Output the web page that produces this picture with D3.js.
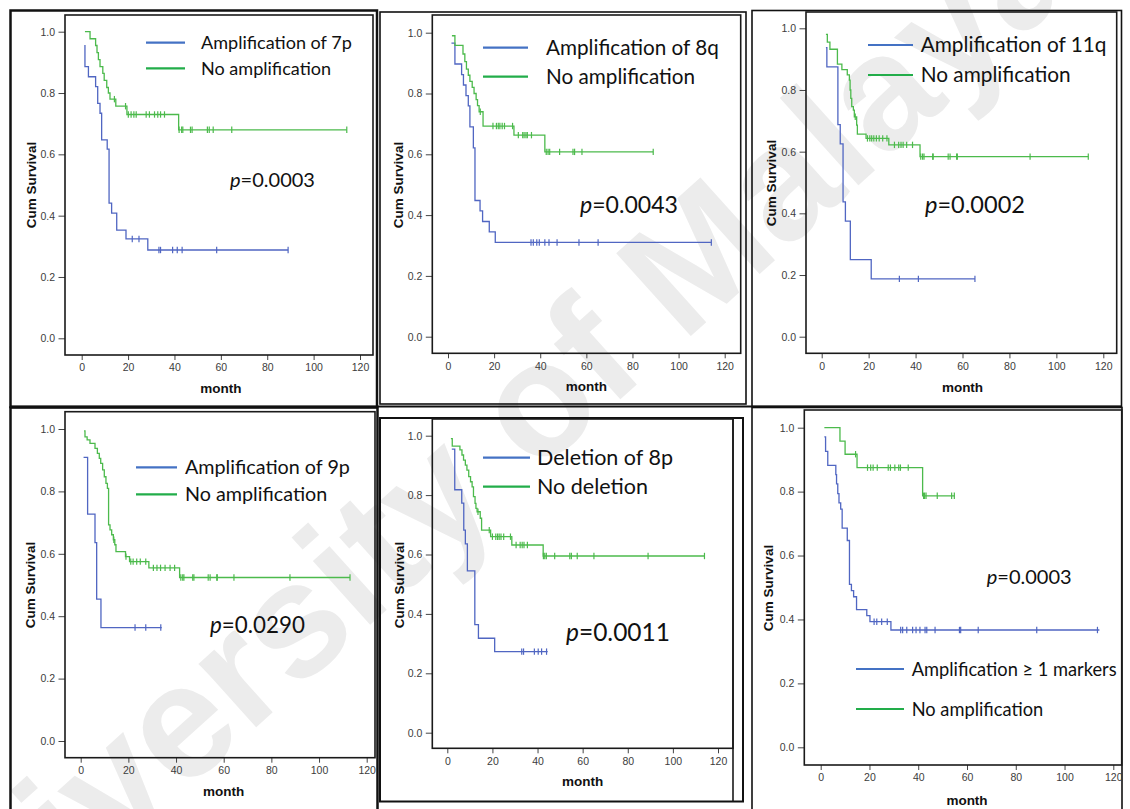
<!DOCTYPE html>
<html><head><meta charset="utf-8">
<script src="https://cdn.jsdelivr.net/npm/d3@7"></script>
<style>body{margin:0;background:#fff}svg{display:block}</style>
</head><body>
<svg id="c" width="1130" height="809"></svg>
<script>
// ---------- shared axis ticks ----------
const monthTicks = [0, 20, 40, 60, 80, 100, 120];
const survTicks = [0.0, 0.2, 0.4, 0.6, 0.8, 1.0];
const xTitle = "month";
const yTitle = "Cum Survival";
const watermark = "University of Malaya";

// ---------- panel 1 : 7p ----------
const p1Labels = ["Amplification of 7p", "No amplification"];
const p1P = "0.0003";
const p1AmpSteps = [[1.4,0.957],[1.4,0.886],[2.9,0.853],[6.0,0.821],[6.9,0.766],[7.9,0.734],[8.6,0.647],[11.0,0.617],[11.8,0.441],[12.9,0.408],[15.1,0.353],[19.1,0.324],[28.5,0.288],[89.0,0.288]];
const p1AmpCensor = [21.8,24.7,33.3,34.0,39.2,41.2,43.3,58.2,89.0];
const p1NoSteps = [[1.4,1.0],[3.6,0.977],[6.0,0.955],[6.6,0.932],[7.2,0.909],[7.9,0.886],[9.1,0.864],[9.7,0.841],[10.8,0.818],[11.5,0.80],[12.2,0.78],[14.7,0.757],[19.5,0.73],[41.8,0.68],[114.3,0.68]];
const p1NoCensor = [14.1,18.9,20.1,21.3,22.5,23.5,27.8,29.2,31.4,32.8,34.0,35.7,42.0,43.1,43.6,46.9,47.6,54.2,55.0,56.7,64.7,114.3];

// ---------- panel 2 : 8q ----------
const p2Labels = ["Amplification of 8q", "No amplification"];
const p2P = "0.0043";
const p2AmpSteps = [[1.5,0.966],[3.0,0.897],[5.9,0.862],[6.7,0.828],[7.8,0.793],[8.8,0.759],[9.5,0.690],[11.0,0.621],[11.7,0.448],[13.9,0.414],[15.0,0.379],[17.9,0.345],[20.5,0.310],[114.2,0.310]];
const p2AmpCensor = [36.0,37.0,38.5,39.6,42.0,43.8,47.3,56.8,65.1,114.2];
const p2NoSteps = [[1.7,0.99],[3.0,0.958],[6.5,0.93],[7.3,0.905],[8.0,0.88],[8.8,0.86],[9.5,0.84],[10.5,0.82],[11.3,0.80],[12.2,0.78],[12.8,0.76],[13.5,0.74],[15.2,0.693],[28.6,0.663],[42.0,0.608],[89.0,0.608]];
const p2NoCensor = [14.0,19.5,21.0,21.8,22.5,23.5,24.5,28.0,30.5,32.4,33.0,33.8,34.4,36.2,42.6,43.4,44.1,48.4,54.2,54.9,58.1,89.0];

// ---------- panel 3 : 11q ----------
const p3Labels = ["Amplification of 11q", "No amplification"];
const p3P = "0.0002";
const p3AmpSteps = [[1.8,0.9375],[2.2,0.875],[6.9,0.6875],[7.9,0.625],[9.1,0.4375],[10.1,0.375],[12.2,0.25],[21.1,0.1875],[65.3,0.1875]];
const p3AmpCensor = [33.1,41.2,65.3];
const p3NoSteps = [[1.8,0.98],[2.4,0.955],[3.5,0.932],[6.7,0.884],[8.6,0.866],[10.9,0.849],[11.8,0.832],[12.1,0.80],[12.4,0.773],[12.8,0.746],[13.5,0.735],[13.9,0.713],[14.9,0.686],[15.2,0.657],[18.9,0.643],[28.6,0.622],[41.9,0.584],[113.6,0.584]];
const p3NoCensor = [14.3,19.5,20.5,21.3,22.2,23.3,24.5,26.0,27.8,31.0,32.8,33.8,34.7,36.2,38.7,42.2,43.0,43.6,47.3,47.5,53.9,54.7,57.5,57.8,88.8,113.6];

// ---------- panel 4 : 9p ----------
const p4Labels = ["Amplification of 9p", "No amplification"];
const p4P = "0.0290";
const p4AmpSteps = [[1.2,0.909],[2.9,0.727],[6.0,0.636],[6.7,0.4545],[8.5,0.3636],[34.0,0.3636]];
const p4AmpCensor = [22.8,27.3,33.6];
const p4NoSteps = [[1.4,0.994],[1.8,0.975],[2.7,0.965],[3.9,0.954],[6.0,0.938],[7.0,0.922],[7.8,0.906],[8.4,0.89],[9.2,0.869],[9.9,0.847],[10.6,0.826],[11.2,0.81],[11.7,0.693],[12.3,0.677],[13.0,0.661],[13.7,0.645],[14.3,0.629],[14.8,0.607],[18.8,0.591],[20.5,0.575],[28.6,0.555],[41.5,0.524],[113.0,0.524]];
const p4NoCensor = [13.9,19.0,21.0,22.0,23.5,25.0,27.3,30.5,32.0,33.5,35.4,37.5,39.4,42.0,42.8,43.3,47.0,47.5,53.5,54.3,57.1,57.3,64.3,87.8,113.0];

// ---------- panel 5 : 8p deletion ----------
const p5Labels = ["Deletion of 8p", "No deletion"];
const p5P = "0.0011";
const p5DelSteps = [[2.0,0.955],[3.3,0.818],[6.4,0.773],[7.3,0.682],[8.0,0.636],[8.9,0.545],[12.2,0.364],[13.8,0.318],[21.0,0.273],[44.5,0.273]];
const p5DelCensor = [33.0,33.8,38.6,40.3,41.8,44.0];
const p5NoSteps = [[1.6,0.99],[2.2,0.965],[5.6,0.952],[6.5,0.935],[7.2,0.918],[8.0,0.901],[8.7,0.884],[9.5,0.862],[10.3,0.845],[11.0,0.828],[11.6,0.795],[12.3,0.772],[12.7,0.755],[13.2,0.744],[14.6,0.722],[15.2,0.682],[19.2,0.66],[28.6,0.632],[42.5,0.595],[114.0,0.595]];
const p5NoCensor = [13.6,18.6,20.0,21.5,22.3,23.0,23.8,25.0,28.0,30.5,32.3,33.2,34.0,35.5,42.6,43.2,43.9,47.6,54.3,55.0,57.6,65.0,89.0,114.0];

// ---------- panel 6 : >=1 marker ----------
const p6Labels = ["Amplification \u2265 1 markers", "No amplification"];
const p6P = "0.0003";
const p6AmpSteps = [[1.5,0.971],[2.0,0.926],[2.9,0.882],[6.2,0.853],[6.5,0.824],[7.0,0.794],[7.5,0.765],[8.2,0.745],[8.8,0.686],[10.9,0.647],[11.8,0.51],[12.6,0.49],[13.5,0.471],[14.7,0.431],[18.9,0.412],[20.2,0.393],[28.8,0.367],[114.3,0.367]];
const p6AmpCensor = [21.9,23.0,25.0,27.3,32.8,33.6,35.3,37.7,39.1,40.7,42.8,43.5,46.9,56.9,57.4,64.6,88.6,113.5];
const p6NoSteps = [[1.5,1.0],[7.9,0.958],[10.0,0.917],[14.9,0.875],[41.8,0.787],[55.0,0.787]];
const p6NoCensor = [14.3,19.2,20.5,21.5,23.2,27.7,28.6,30.4,32.0,32.7,35.9,42.2,42.6,43.2,47.8,53.7,54.8];

// ---------- styles ----------
const blueCurve = "#5066c2", greenCurve = "#4cba4c";
const blueLegend = "#4472c4", greenLegend = "#22ad4a";

// ---------- panel table (data refs + layout) ----------
const panels = [
  {labels:p1Labels, p:p1P, a:p1AmpSteps, ac:p1AmpCensor, n:p1NoSteps, nc:p1NoCensor,
   border:[10.5,10.5,377,407,2.5], frame:[65,15,373,355], xr:[81.7,360], yr:[338.3,31.7],
   leg:[146,185,201,42.7,68.3,151], pp:[230,180,85], yl:[31.7,185], xl:388},
  {labels:p2Labels, p:p2P, a:p2AmpSteps, ac:p2AmpCensor, n:p2NoSteps, nc:p2NoCensor,
   border:[380,12,746,404,1.6], frame:[432.3,15,740.7,353.3], xr:[448,724.7], yr:[336.7,32.7],
   leg:[483,528,546,47.7,76.7,173], pp:[580,205,98], yl:[398,185], xl:386.7},
  {labels:p3Labels, p:p3P, a:p3AmpSteps, ac:p3AmpCensor, n:p3NoSteps, nc:p3NoCensor,
   border:[752,10.5,1121.5,406.5,1.6], frame:[806,12,1116.7,353.3], xr:[821.7,1103.3], yr:[336.7,28.3],
   leg:[868,913,920.7,45,75,186], pp:[925,205,100], yl:[771.7,183], xl:387.3},
  {labels:p4Labels, p:p4P, a:p4AmpSteps, ac:p4AmpCensor, n:p4NoSteps, nc:p4NoCensor,
   border:[10.5,407.5,377.5,815,2.5], frame:[65,411.7,375,757.7], xr:[80.7,366.7], yr:[741,429],
   leg:[136,177,185,467.3,494.3,165], pp:[210,625,95], yl:[30,585], xl:791.7},
  {labels:p5Labels, p:p5P, a:p5DelSteps, ac:p5DelCensor, n:p5NoSteps, nc:p5NoCensor,
   border:[380,418,743,801.5,2], frame:[432.3,419,733,748.3], xr:[447.3,718], yr:[732.7,435.7],
   leg:[483,530,537,457.7,486.7,136], pp:[566,631.7,104], yl:[399.7,585], xl:781.7},
  {labels:p6Labels, p:p6P, a:p6AmpSteps, ac:p6AmpCensor, n:p6NoSteps, nc:p6NoCensor,
   border:[752,407.5,1122,815,1.6], frame:[804.3,410,1121.7,765], xr:[820.7,1113.3], yr:[747.3,427.7],
   leg:[856,904,911.7,669,709,205], pp:[986.7,576.7,85], yl:[768.3,588], xl:800}
];

const svg = d3.select("#c");
svg.append("rect").attr("width",1130).attr("height",809).attr("fill","#fff");

// watermark (behind everything)
svg.append("text")
  .attr("transform","translate(-80,1030) rotate(-42)")
  .attr("font-family","'Liberation Sans', Arial, sans-serif")
  .attr("font-weight","bold")
  .attr("font-size",162)
  .attr("fill","#ececec")
  .text(watermark);

function survAt(steps, t){
  let s = steps[0][1];
  for (const [tt, ss] of steps) { if (tt <= t) s = ss; }
  return s;
}
function fit(sel, target){
  const w = sel.node().getComputedTextLength();
  const fs = parseFloat(sel.attr("font-size")) * target / w;
  sel.attr("font-size", fs);
  return fs;
}

const stepLine = d3.line().curve(d3.curveStepAfter);

panels.forEach((P, i) => {
  const g = svg.append("g");
  const [bx0,by0,bx1,by1,bsw] = P.border;
  g.append("rect").attr("x",bx0).attr("y",by0).attr("width",bx1-bx0).attr("height",by1-by0)
    .attr("fill","none").attr("stroke","#111").attr("stroke-width",bsw);

  const [fx0,fy0,fx1,fy1] = P.frame;
  const x = d3.scaleLinear().domain([0,120]).range(P.xr);
  const y = d3.scaleLinear().domain([0,1]).range(P.yr);

  // axes
  const xAxis = d3.axisBottom(x).tickValues(monthTicks).tickSize(5).tickPadding(4).tickFormat(d3.format("d"));
  const yAxis = d3.axisLeft(y).tickValues(survTicks).tickSize(6.5).tickPadding(3.5).tickFormat(d3.format(".1f"));
  const gx = g.append("g").attr("transform",`translate(0,${fy1})`).call(xAxis);
  const gy = g.append("g").attr("transform",`translate(${fx0},0)`).call(yAxis);
  [gx,gy].forEach(a => {
    a.select(".domain").remove();
    a.selectAll(".tick line").attr("stroke","#444").attr("stroke-width",1);
    a.selectAll(".tick text").attr("fill","#3c3c3c").attr("font-size",10.5)
      .attr("font-family","'Liberation Sans', Arial, sans-serif");
  });

  // frame
  g.append("rect").attr("x",fx0).attr("y",fy0).attr("width",fx1-fx0).attr("height",fy1-fy0)
    .attr("fill","none").attr("stroke","#1a1a1a").attr("stroke-width",1.6);
  if (i === 4) {
    g.append("line").attr("x1",fx1).attr("x2",fx1).attr("y1",by0).attr("y2",by1)
      .attr("stroke","#1a1a1a").attr("stroke-width",1.6);
  }

  // axis titles
  g.append("text").attr("x",x(60)).attr("y",P.xl).attr("dy","0.35em").attr("text-anchor","middle")
    .attr("font-family","'Liberation Sans', Arial, sans-serif").attr("font-weight","bold")
    .attr("font-size",13.5).attr("fill","#111").text(xTitle);
  g.append("text").attr("transform",`translate(${P.yl[0]},${P.yl[1]}) rotate(-90)`).attr("dy","0.35em")
    .attr("text-anchor","middle")
    .attr("font-family","'Liberation Sans', Arial, sans-serif").attr("font-weight","bold")
    .attr("font-size",13.5).attr("fill","#111").text(yTitle);

  // curves
  const series = [
    {steps:P.a, cens:P.ac, color:blueCurve},
    {steps:P.n, cens:P.nc, color:greenCurve}
  ];
  series.forEach(S => {
    g.append("path").attr("d", stepLine(S.steps.map(d => [x(d[0]), y(d[1])])))
      .attr("fill","none").attr("stroke",S.color).attr("stroke-width",1.3);
    g.selectAll(null).data(S.cens).enter().append("line")
      .attr("x1",d => x(d)).attr("x2",d => x(d))
      .attr("y1",d => y(survAt(S.steps,d)) - 3.2).attr("y2",d => y(survAt(S.steps,d)) + 3.2)
      .attr("stroke",S.color).attr("stroke-width",1.2);
  });

  // legend
  const [lx1,lx2,tx,ly1,ly2,tw] = P.leg;
  g.append("line").attr("x1",lx1).attr("x2",lx2).attr("y1",ly1).attr("y2",ly1)
    .attr("stroke",blueLegend).attr("stroke-width",2.2);
  g.append("line").attr("x1",lx1).attr("x2",lx2).attr("y1",ly2).attr("y2",ly2)
    .attr("stroke",greenLegend).attr("stroke-width",2.2);
  const t1 = g.append("text").attr("x",tx).attr("y",ly1).attr("dy","0.36em")
    .attr("font-family","Lato, 'Noto Sans', sans-serif").attr("font-size",18).attr("fill","#111")
    .text(P.labels[0]);
  const fs = fit(t1, tw);
  g.append("text").attr("x",tx).attr("y",ly2).attr("dy","0.36em")
    .attr("font-family","Lato, 'Noto Sans', sans-serif").attr("font-size",fs).attr("fill","#111")
    .text(P.labels[1]);

  // p value
  const pt = g.append("text").attr("x",P.pp[0]).attr("y",P.pp[1]).attr("dy","0.36em")
    .attr("font-family","Lato, 'Noto Sans', sans-serif").attr("font-size",21).attr("fill","#111");
  pt.append("tspan").attr("font-style","italic").text("p");
  pt.append("tspan").text("=" + P.p);
  fit(pt, P.pp[2]);
});

// separator between rows
svg.append("line").attr("x1",10).attr("x2",1122).attr("y1",406.5).attr("y2",406.5)
  .attr("stroke","#111").attr("stroke-width",2);
</script>
</body></html>
